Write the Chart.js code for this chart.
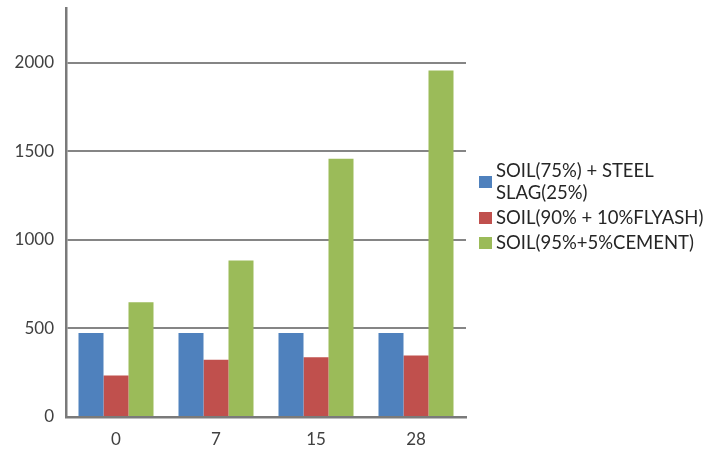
<!DOCTYPE html>
<html>
<head>
<meta charset="utf-8">
<script src="https://cdn.jsdelivr.net/npm/chart.js@4"></script>
<style>
  html, body { margin: 0; padding: 0; background: #fff; }
  #wrap { width: 707px; height: 453px; position: relative; }
</style>
</head>
<body>
<div id="wrap"><canvas id="c" width="707" height="453"></canvas></div>
<script>
const categories = ["0", "7", "15", "28"];
const seriesNames = ["SOIL(75%) + STEEL SLAG(25%)", "SOIL(90% + 10%FLYASH)", "SOIL(95%+5%CEMENT)"];
const legendLines = [["SOIL(75%) + STEEL", "SLAG(25%)"], ["SOIL(90% + 10%FLYASH)"], ["SOIL(95%+5%CEMENT)"]];
const steelSlag = [475, 475, 475, 475];
const flyash = [235, 324, 337, 348];
const cement = [648, 884, 1458, 1957];
const yTicks = [0, 500, 1000, 1500, 2000];
const colors = ["#4F81BD", "#C0504D", "#9BBB59"];

const legendPlugin = {
  id: 'customLegend',
  afterDraw(chart) {
    const ctx = chart.ctx;
    ctx.save();
    ctx.font = '18.5px Lato';
    ctx.textBaseline = 'middle';
    ctx.textAlign = 'left';
    const lineH = 22;
    const x0 = 479, tx = 496;
    let y = 171;
    chart.data.datasets.forEach((ds, i) => {
      const lines = legendLines[i];
      const boxCenter = y + (lines.length - 1) * lineH / 2;
      ctx.fillStyle = ds.backgroundColor;
      ctx.fillRect(x0, boxCenter - 6, 13, 12);
      ctx.fillStyle = '#262626';
      lines.forEach((ln, j) => ctx.fillText(ln, tx, y + j * lineH));
      y += lines.length * lineH + 3;
    });
    ctx.restore();
  }
};

new Chart(document.getElementById('c'), {
  type: 'bar',
  data: {
    labels: categories,
    datasets: [
      { label: seriesNames[0], data: steelSlag, backgroundColor: colors[0] },
      { label: seriesNames[1], data: flyash, backgroundColor: colors[1] },
      { label: seriesNames[2], data: cement, backgroundColor: colors[2] }
    ]
  },
  options: {
    responsive: false,
    animation: false,
    devicePixelRatio: 1,
    categoryPercentage: 0.75,
    barPercentage: 1.0,
    layout: { padding: { left: 0, top: 8, right: 241, bottom: 0 } },
    plugins: { legend: { display: false }, tooltip: { enabled: false } },
    scales: {
      x: {
        grid: { display: false, drawTicks: false },
        border: { color: '#7a7a7a', width: 2.5 },
        ticks: { color: '#404040', font: { family: 'Lato', size: 17 }, padding: 12 },
        afterFit(scale) { scale.height = 36; scale.paddingLeft = 0; scale.paddingRight = 0; }
      },
      y: {
        min: 0,
        max: 2310,
        afterBuildTicks(scale) { scale.ticks = yTicks.map(v => ({ value: v })); },
        grid: {
          color: (c) => c.tick && c.tick.value === 0 ? 'rgba(0,0,0,0)' : '#858585',
          lineWidth: 2,
          drawTicks: false
        },
        border: { color: '#7a7a7a', width: 2.5 },
        ticks: { color: '#404040', font: { family: 'Lato', size: 17 }, padding: 12, callback: (v) => String(v) },
        afterFit(scale) { scale.width = 66; scale.paddingTop = 0; scale.paddingBottom = 0; }
      }
    }
  },
  plugins: [legendPlugin]
});
</script>
</body>
</html>
